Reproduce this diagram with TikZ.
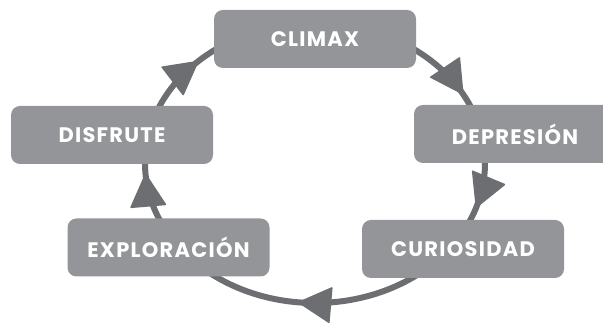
\documentclass[tikz,border=0pt]{standalone}
\usepackage{fontspec}
\setmainfont{Poppins}
\newfontfamily\stagefont[LetterSpace=6]{Poppins}
\definecolor{boxgray}{HTML}{939598}
\definecolor{linegray}{HTML}{6D6E71}
\begin{document}
\begin{tikzpicture}[x=1pt,y=1pt,
  stagebox/.style={fill=boxgray, rounded corners=9pt, minimum width=202pt,
    minimum height=58pt, text=white, inner sep=0pt,
    font=\stagefont\bfseries\fontsize{21}{24}\selectfont},
  cycleline/.style={draw=linegray, line width=6pt},
  headfill/.style={fill=linegray, rounded corners=1pt}]
\useasboundingbox (0,0) rectangle (603,323);
\draw[cycleline] (315,160) ellipse[x radius=170, y radius=140];
\foreach \t in {29,-19,-96,184,133}{
  \pgfmathsetmacro\px{315+170*cos(\t)}
  \pgfmathsetmacro\py{160+140*sin(\t)}
  \pgfmathsetmacro\dir{atan2(-140*cos(\t),170*sin(\t))}
  \fill[headfill, shift={(\px,\py)}, rotate=\dir] (0,0) -- (-34,18.5) -- (-34,-18.5) -- cycle;
}
\node[stagebox] (climax) at (315,284) {CLIMAX};
\node[stagebox] (depresion) at (515,189) {DEPRESIÓN};
\node[stagebox] (curiosidad) at (463,74) {CURIOSIDAD};
\node[stagebox] (exploracion) at (168.5,75.5) {EXPLORACIÓN};
\node[stagebox] (disfrute) at (112,188) {DISFRUTE};
\end{tikzpicture}
\end{document}
